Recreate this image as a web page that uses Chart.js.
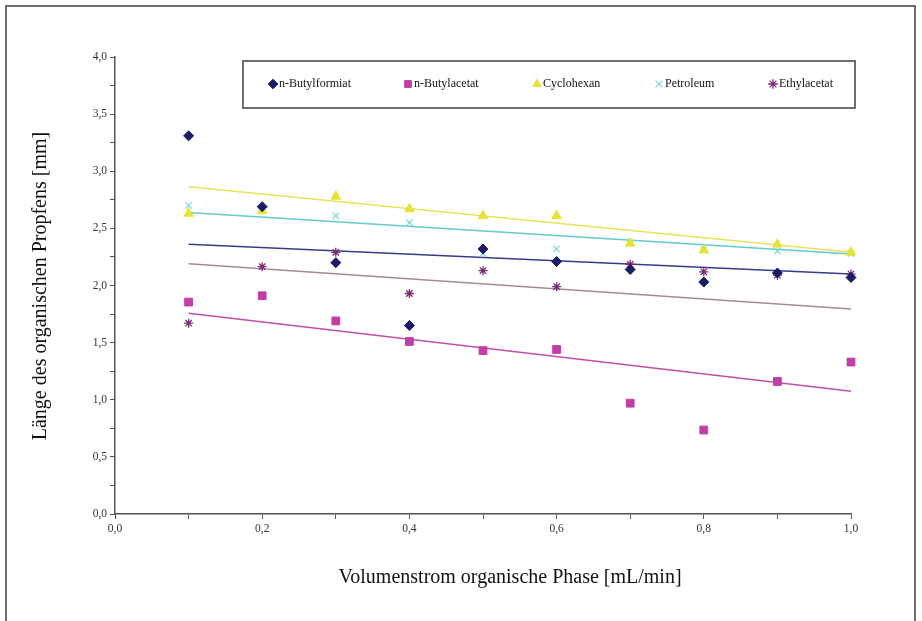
<!DOCTYPE html>
<html lang="de">
<head>
<meta charset="UTF-8">
<title>Länge des organischen Propfens</title>
<style>
  body {
    margin: 0;
    padding: 0;
    background: #fff;
  }
  #wrap {
    width: 922px;
    height: 621px;
  }
</style>
</head>
<body>
<div id="wrap"><canvas id="chart" width="922" height="621"></canvas></div>
<script src="https://cdn.jsdelivr.net/npm/chart.js@4.4.1/dist/chart.umd.min.js"></script>
<script>
  // Volumenstrom organische Phase [mL/min]
  var flowRates = [0.1, 0.2, 0.3, 0.4, 0.5, 0.6, 0.7, 0.8, 0.9, 1.0];

  // Länge des organischen Propfens [mm]
  var butylformiat = [3.31, 2.69, 2.20, 1.65, 2.32, 2.21, 2.14, 2.03, 2.11, 2.07];
  var butylacetat  = [1.855, 1.91, 1.69, 1.51, 1.43, 1.44, 0.97, 0.735, 1.16, 1.33];
  var cyclohexan   = [2.63, 2.655, 2.78, 2.67, 2.61, 2.61, 2.37, 2.31, 2.36, 2.29];
  var petroleum    = [2.70, 2.66, 2.61, 2.55, 2.28, 2.32, 2.37, 2.31, 2.30, 2.28];
  var ethylacetat  = [1.67, 2.165, 2.29, 1.93, 2.13, 1.99, 2.185, 2.12, 2.09, 2.10];

  // linear trend lines, start and end
  var trendX = [0.1, 1.0];
  var trendButylformiat = [2.36, 2.10];
  var trendButylacetat  = [1.757, 1.074];
  var trendCyclohexan   = [2.865, 2.29];
  var trendPetroleum    = [2.64, 2.275];
  var trendEthylacetat  = [2.19, 1.795];

  var xTicks = [0, 0.2, 0.4, 0.6, 0.8, 1.0];
  var yTicks = [0, 0.5, 1.0, 1.5, 2.0, 2.5, 3.0, 3.5, 4.0];

  var xTitle = 'Volumenstrom organische Phase [mL/min]';
  var yTitle = 'Länge des organischen Propfens [mm]';

  var serif = '"Liberation Serif", "Times New Roman", serif';

  function toPoints(xs, ys) {
    return xs.map(function(x, i) { return { x: x, y: ys[i] }; });
  }

  function fmt(v) {
    return v.toFixed(1).replace('.', ',');
  }

  function pointSet(label, values, color, style, radius) {
    return {
      label: label,
      data: toPoints(flowRates, values),
      backgroundColor: color,
      borderColor: color,
      pointStyle: style,
      pointRadius: radius,
      pointBorderWidth: style === 'crossRot' || style === 'star' ? 1.3 : 1,
      showLine: false,
      clip: false
    };
  }

  function trendSet(values, color) {
    return {
      label: 'trend',
      data: toPoints(trendX, values),
      borderColor: color,
      borderWidth: 1.5,
      pointRadius: 0,
      showLine: true,
      fill: false,
      clip: false
    };
  }

  // outer frame and both axis titles
  var frame = {
    id: 'frame',
    beforeDraw: function(chart) {
      var ctx = chart.ctx;
      ctx.save();
      ctx.fillStyle = '#fff';
      ctx.fillRect(0, 0, chart.width, chart.height);
      ctx.strokeStyle = '#6e6e6e';
      ctx.lineWidth = 2;
      ctx.strokeRect(6, 6, 909, 700);
      ctx.fillStyle = '#111';
      ctx.font = '20px ' + serif;
      ctx.textAlign = 'center';
      ctx.textBaseline = 'middle';
      ctx.fillText(xTitle, 510, 578);
      ctx.translate(41, 286);
      ctx.rotate(-Math.PI / 2);
      ctx.fillText(yTitle, 0, 0);
      ctx.restore();
    }
  };

  var legendBox = {
    id: 'legendBox',
    afterDraw: function(chart) {
      var ctx = chart.ctx;
      var entries = chart.data.datasets.filter(function(d) { return d.label !== 'trend'; });
      var xs = [273, 408, 537, 659, 773];
      ctx.save();
      ctx.strokeStyle = '#6e6e6e';
      ctx.lineWidth = 2;
      ctx.strokeRect(243, 61, 612, 47);
      ctx.font = '12px ' + serif;
      ctx.textBaseline = 'middle';
      entries.forEach(function(d, i) {
        ctx.fillStyle = d.backgroundColor;
        ctx.strokeStyle = d.borderColor;
        ctx.lineWidth = d.pointBorderWidth;
        Chart.helpers.drawPoint(ctx, { pointStyle: d.pointStyle, radius: 4.8, rotation: 0, borderWidth: d.pointBorderWidth }, xs[i], 84);
        ctx.fillStyle = '#111';
        ctx.fillText(d.label, xs[i] + 6, 84);
      });
      ctx.restore();
    }
  };

  var ctx = document.getElementById('chart').getContext('2d');
  var chart = new Chart(ctx, {
    type: 'scatter',
    data: {
      datasets: [
        pointSet('n-Butylformiat', butylformiat, '#1b1b66', 'rectRot', 5),
        pointSet('n-Butylacetat', butylacetat, '#c23ea6', 'rect', 5.5),
        pointSet('Cyclohexan', cyclohexan, '#e6e236', 'triangle', 5.5),
        pointSet('Petroleum', petroleum, '#86d6d8', 'crossRot', 4.5),
        pointSet('Ethylacetat', ethylacetat, '#7a2a70', 'star', 4.5),
        trendSet(trendButylformiat, '#3a3a8c'),
        trendSet(trendButylacetat, '#c64eaa'),
        trendSet(trendCyclohexan, '#e8e35a'),
        trendSet(trendPetroleum, '#62cccc'),
        trendSet(trendEthylacetat, '#a68a9c')
      ]
    },
    options: {
      responsive: false,
      animation: false,
      layout: {
        padding: { left: 20, right: 71, top: 57, bottom: 27 }
      },
      plugins: {
        legend: { display: false },
        tooltip: { enabled: false }
      },
      scales: {
        x: {
          type: 'linear',
          min: 0,
          max: 1,
          afterFit: function(scale) { scale.height = 80; },
          afterBuildTicks: function(scale) {
            var t = [];
            for (var i = 0; i <= 10; i++) t.push({ value: i / 10 });
            scale.ticks = t;
          },
          border: { display: true, color: '#555', width: 1.5 },
          grid: { drawOnChartArea: false, color: '#555', tickLength: 5 },
          ticks: {
            autoSkip: false,
            maxRotation: 0,
            color: '#333',
            font: { family: serif, size: 11.5 },
            callback: function(v) {
              var r = Math.round(v * 10) / 10;
              return xTicks.indexOf(r) >= 0 ? fmt(r) : '';
            }
          }
        },
        y: {
          type: 'linear',
          min: 0,
          max: 4,
          afterFit: function(scale) { scale.width = 95; },
          afterBuildTicks: function(scale) {
            var t = [];
            for (var i = 0; i <= 16; i++) t.push({ value: i / 4 });
            scale.ticks = t;
          },
          border: { display: true, color: '#555', width: 1.5 },
          grid: { drawOnChartArea: false, color: '#555', tickLength: 5 },
          ticks: {
            autoSkip: false,
            color: '#333',
            font: { family: serif, size: 11.5 },
            callback: function(v) {
              var r = Math.round(v * 10) / 10;
              return (Math.round(v * 4) % 2 === 0 && yTicks.indexOf(r) >= 0) ? fmt(r) : '';
            }
          }
        }
      }
    },
    plugins: [frame, legendBox]
  });
</script>
</body>
</html>
